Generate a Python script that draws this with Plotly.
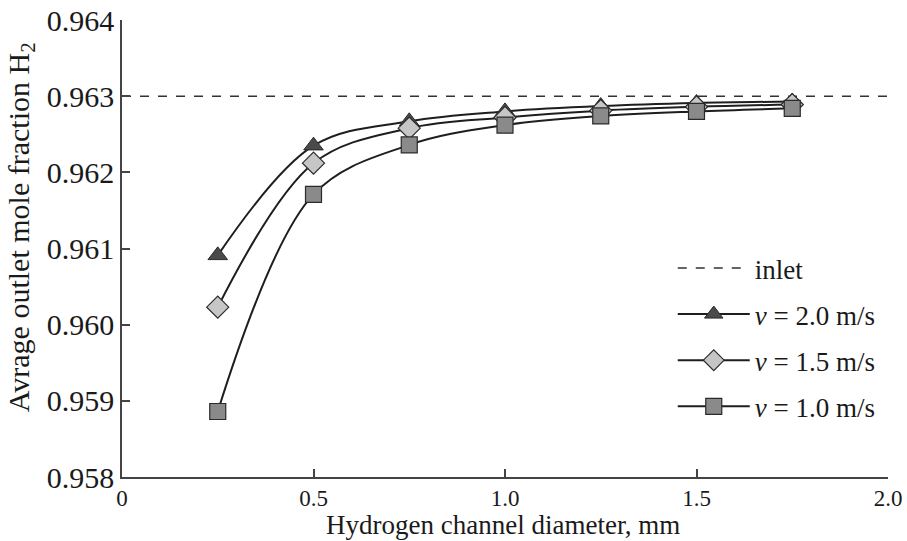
import plotly.graph_objects as go

diameter = [0.25, 0.5, 0.75, 1.0, 1.25, 1.5, 1.75]
v20 = [0.96091, 0.96235, 0.96267, 0.96280, 0.96287, 0.96291, 0.96293]
v15 = [0.96023, 0.96212, 0.96258, 0.96272, 0.96281, 0.96286, 0.96289]
v10 = [0.95886, 0.96171, 0.96236, 0.96262, 0.96274, 0.96280, 0.96284]
inlet_x = [0.0, 2.0]
inlet_y = [0.963, 0.963]

x_ticks = [0, 0.5, 1.0, 1.5, 2.0]
x_ticktext = ["0", "0.5", "1.0", "1.5", "2.0"]
y_ticks = [0.958, 0.959, 0.960, 0.961, 0.962, 0.963, 0.964]
y_ticktext = ["0.958", "0.959", "0.960", "0.961", "0.962", "0.963", "0.964"]

FONT = "Liberation Serif, Times New Roman, serif"
LINE = "#1e1e1e"
TXT = "#1a1a1a"

fig = go.Figure()
fig.add_trace(go.Scatter(
    x=inlet_x, y=inlet_y, mode="lines", name="inlet",
    line=dict(color="#333333", width=1.5, dash="dash"),
    legendgroup="a",
))
fig.add_trace(go.Scatter(
    x=diameter, y=v20, mode="lines+markers", name="<i>v</i> = 2.0 m/s",
    line=dict(color=LINE, width=2, shape="spline", smoothing=1.0),
    marker=dict(symbol="triangle-up", size=17, color="#4a4a4a",
                line=dict(color="#2a2a2a", width=1)),
    legendgroup="b",
))
fig.add_trace(go.Scatter(
    x=diameter, y=v15, mode="lines+markers", name="<i>v</i> = 1.5 m/s",
    line=dict(color=LINE, width=2, shape="spline", smoothing=1.0),
    marker=dict(symbol="diamond", size=17, color="#c6c6c6",
                line=dict(color="#2a2a2a", width=1.2)),
    legendgroup="c",
))
fig.add_trace(go.Scatter(
    x=diameter, y=v10, mode="lines+markers", name="<i>v</i> = 1.0 m/s",
    line=dict(color=LINE, width=2, shape="spline", smoothing=1.0),
    marker=dict(symbol="square", size=16, color="#8a8a8a",
                line=dict(color="#2a2a2a", width=1.2)),
    legendgroup="d",
))

fig.update_layout(
    width=907, height=541,
    margin=dict(l=122, r=19, t=20, b=64, autoexpand=False),
    paper_bgcolor="white", plot_bgcolor="white",
    font=dict(family=FONT, size=26, color=TXT),
    showlegend=True,
    legend=dict(
        x=0.719, y=0.51, xanchor="left", yanchor="top",
        bgcolor="rgba(0,0,0,0)", font=dict(family=FONT, size=27),
        tracegroupgap=8, itemwidth=72,
    ),
    annotations=[
        dict(
            text="Avrage outlet mole fraction H<sub>2</sub>",
            textangle=-90, xref="paper", yref="paper",
            x=-0.131, y=0.546, xanchor="center", yanchor="middle",
            showarrow=False, font=dict(family=FONT, size=30, color=TXT),
        ),
        dict(
            text="Hydrogen channel diameter, mm",
            xref="paper", yref="paper",
            x=0.497, y=-0.105, xanchor="center", yanchor="middle",
            showarrow=False, font=dict(family=FONT, size=27, color=TXT),
        ),
    ],
)
fig.update_xaxes(
    range=[0, 2.0], tickvals=x_ticks, ticktext=x_ticktext,
    showline=True, linecolor="#444444", linewidth=1.5,
    ticks="inside", ticklen=8, tickcolor="#444444", tickwidth=1.5,
    showgrid=False, zeroline=False, automargin=False,
    tickfont=dict(family=FONT, size=23),
)
fig.update_yaxes(
    range=[0.958, 0.964], tickvals=y_ticks, ticktext=y_ticktext,
    showline=True, linecolor="#444444", linewidth=1.5,
    ticks="inside", ticklen=8, tickcolor="#444444", tickwidth=1.5,
    showgrid=False, zeroline=False, automargin=False,
    tickfont=dict(family=FONT, size=30),
)

fig.write_html("out.html")
